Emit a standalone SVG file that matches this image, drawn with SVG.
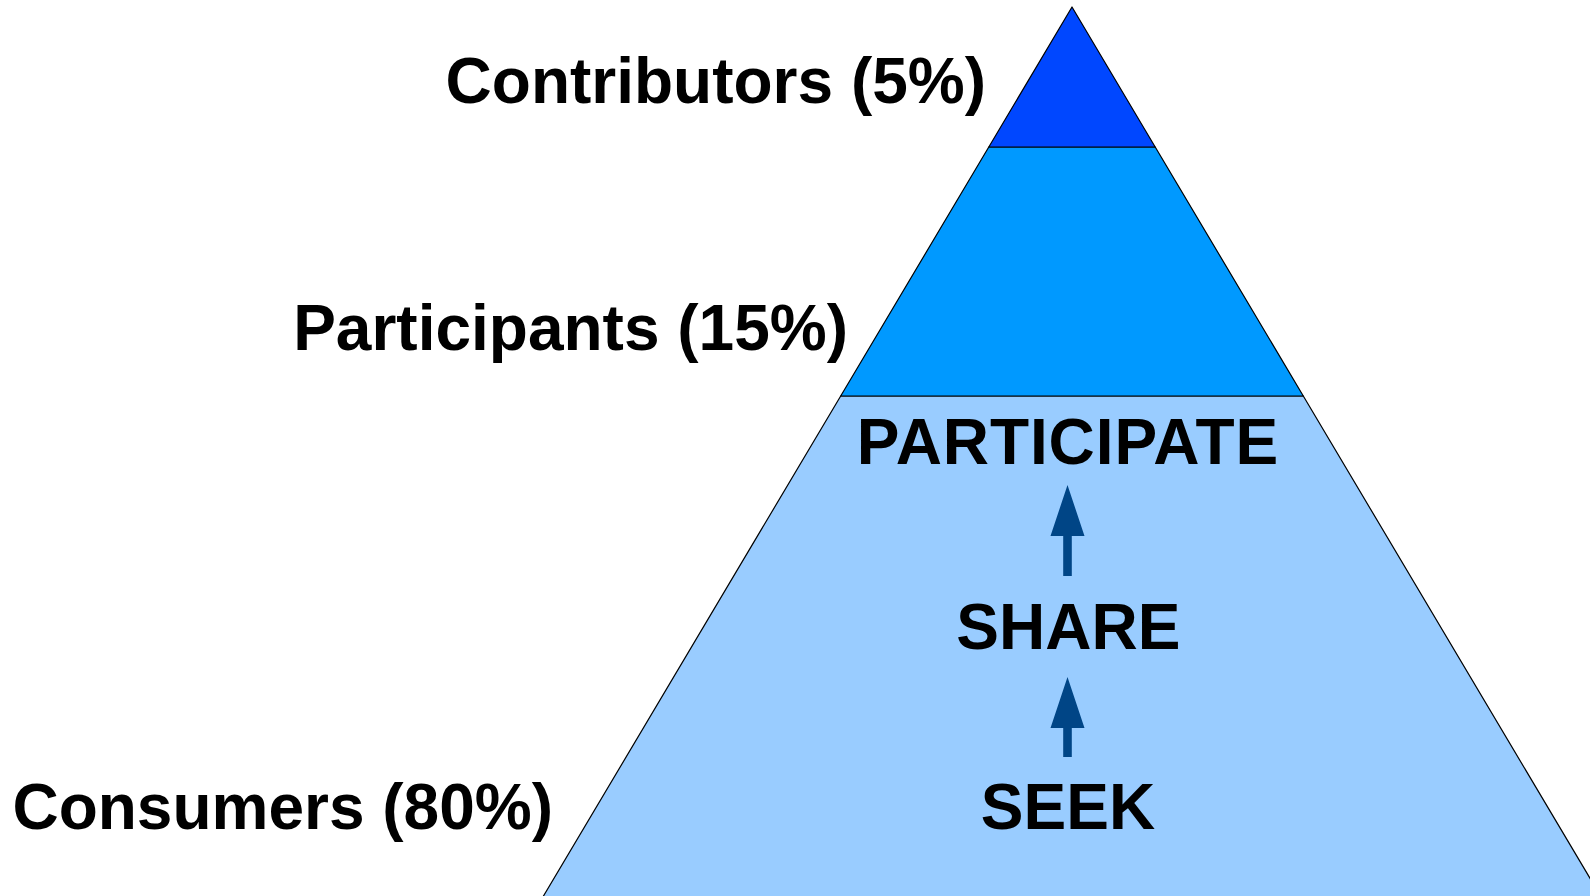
<svg xmlns="http://www.w3.org/2000/svg" width="1590" height="896" viewBox="0 0 1590 896">
  <style>
    .layer { stroke: #000; stroke-width: 1.2; stroke-linejoin: round; }
    .label { font-family: "Liberation Sans", Arial, sans-serif; font-weight: bold; font-size: 64px; fill: #000; }
    .step { text-anchor: middle; }
    .side { text-anchor: end; }
    .arrow { fill: #004586; }
  </style>
  <rect width="1590" height="896" fill="#fff"/>

  <!-- Pyramid layers -->
  <g id="consumers">
    <polygon class="layer" fill="#99ccff" points="840.7,396 1303.3,396 1602.9,900 541.1,900"/>
    <text class="label side" x="553" y="829">Consumers (80%)</text>
  </g>
  <g id="participants">
    <polygon class="layer" fill="#0099ff" points="988.8,147 1155.2,147 1303.3,396 840.7,396"/>
    <text class="label side" x="848" y="350">Participants (15%)</text>
  </g>
  <g id="contributors">
    <polygon class="layer" fill="#0047ff" points="1072,7 1155.2,147 988.8,147"/>
    <text class="label side" x="986" y="103">Contributors (5%)</text>
  </g>

  <!-- Activity steps inside the base layer -->
  <g id="participate">
    <text class="label step" x="1068" y="464" letter-spacing="0.9">PARTICIPATE</text>
  </g>
  <g id="share">
    <text class="label step" x="1068.3" y="649">SHARE</text>
  </g>
  <g id="seek">
    <text class="label step" x="1068" y="829">SEEK</text>
  </g>

  <!-- Connectors -->
  <g id="connectors">
    <polygon class="arrow" points="1067.5,485 1084.5,536 1071.8,536 1071.8,576 1063.2,576 1063.2,536 1050.5,536"/>
    <polygon class="arrow" points="1067.5,677 1084.5,728 1071.8,728 1071.8,757 1063.2,757 1063.2,728 1050.5,728"/>
  </g>
</svg>
